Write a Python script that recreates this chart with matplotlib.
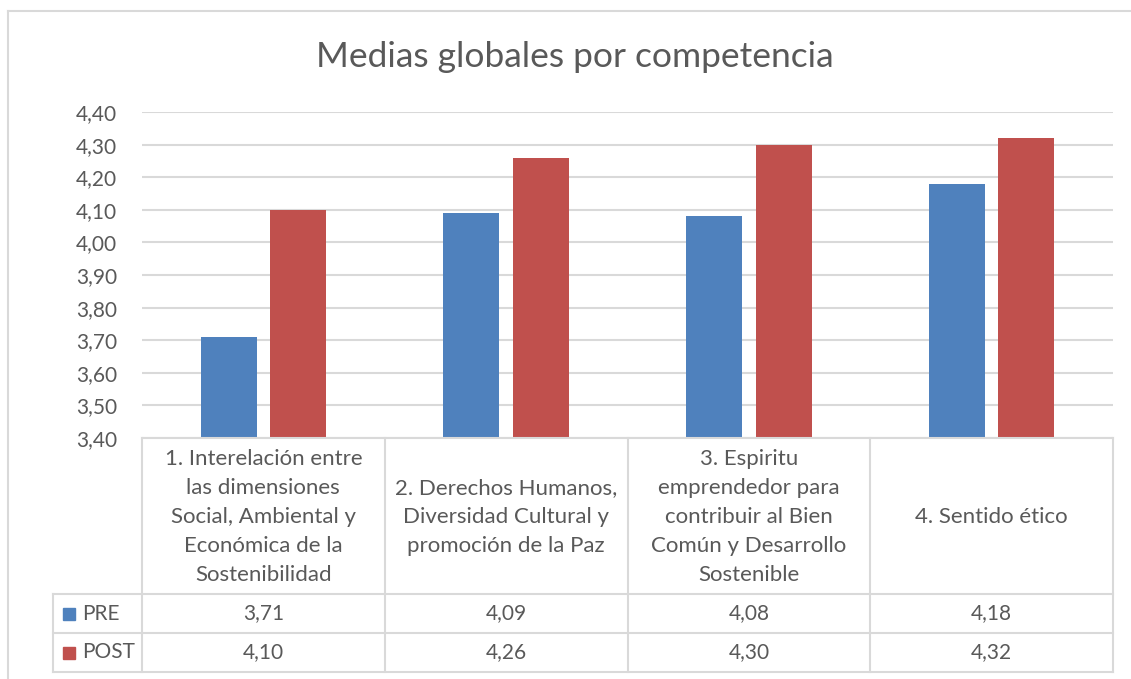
import matplotlib
matplotlib.use('Agg')
import matplotlib.pyplot as plt
from matplotlib.lines import Line2D
from matplotlib.patches import Rectangle
import matplotlib.transforms as mtransforms

# ---- data ----
categories = [
    "1. Interelación entre\nlas dimensiones\nSocial, Ambiental y\nEconómica de la\nSostenibilidad",
    "2. Derechos Humanos,\nDiversidad Cultural y\npromoción de la Paz",
    "3. Espiritu\nemprendedor para\ncontribuir al Bien\nComún y Desarrollo\nSostenible",
    "4. Sentido ético",
]
series_names = ["PRE", "POST"]
pre = [3.71, 4.09, 4.08, 4.18]
post = [4.10, 4.26, 4.30, 4.32]
yticks = [3.40, 3.50, 3.60, 3.70, 3.80, 3.90, 4.00, 4.10, 4.20, 4.30, 4.40]
title = "Medias globales por competencia"

colors = ["#4F81BD", "#C0504D"]
txt = "#595959"
grid = "#D9D9D9"
FONT = ["Lato", "DejaVu Sans"]
plt.rcParams['font.family'] = FONT

W, H = 1131, 679
fig = plt.figure(figsize=(W / 100, H / 100), dpi=100)


def fx(px):
    return px / W


def fy(py):
    return 1 - py / H


# chart border (top and left visible)
fig.add_artist(Line2D([fx(8), 1.0], [fy(11), fy(11)], color=grid, lw=1.5, transform=fig.transFigure))
fig.add_artist(Line2D([fx(8), fx(8)], [fy(11), 0.0], color=grid, lw=1.5, transform=fig.transFigure))

ax = fig.add_axes([fx(142), fy(438), fx(1113) - fx(142), fy(112) - fy(438)])
x = list(range(len(categories)))
bw = 0.23
off = 0.143
ax.bar([i - off for i in x], pre, width=bw, color=colors[0], zorder=3)
ax.bar([i + off for i in x], post, width=bw, color=colors[1], zorder=3)
ax.set_xlim(-0.5, len(categories) - 0.5)
ax.set_ylim(yticks[0], yticks[-1])
ax.set_yticks(yticks)
ax.set_yticklabels([f"{v:.2f}".replace('.', ',') for v in yticks], color=txt, fontsize=15)
ax.tick_params(axis='y', length=0, pad=18)
ax.set_xticks([])
for s in ax.spines.values():
    s.set_visible(False)
ax.yaxis.grid(True, color=grid, lw=1.5, zorder=0)
ax.set_axisbelow(True)

fig.text(fx(575), fy(57), title, ha='center', va='center', fontsize=25.5, color=txt)

# ---- data table ----
trans = mtransforms.blended_transform_factory(ax.transData, fig.transFigure)
y_top, y_h, y_r1, y_r2 = 438, 594, 633, 672
lkw = dict(color=grid, lw=1.5)
# horizontal lines
fig.add_artist(Line2D([-0.5, 3.5], [fy(y_top), fy(y_top)], transform=trans, **lkw))
for yy in (y_h, y_r1, y_r2):
    fig.add_artist(Line2D([fx(53), fx(1113)], [fy(yy), fy(yy)], transform=fig.transFigure, **lkw))
# vertical lines
for b in [c - 0.5 for c in x] + [x[-1] + 0.5]:
    fig.add_artist(Line2D([b, b], [fy(y_top), fy(y_r2)], transform=trans, **lkw))
fig.add_artist(Line2D([fx(53), fx(53)], [fy(y_h), fy(y_r2)], transform=fig.transFigure, **lkw))

# header text
for i, c in enumerate(categories):
    fig.text(i, fy((y_top + y_h) / 2 + 1), c, transform=trans, ha='center', va='center',
             fontsize=16, color=txt, linespacing=1.55)
# values
rows = [pre, post]
row_centers = [(y_h + y_r1) / 2, (y_r1 + y_r2) / 2]
for r, (vals, yc) in enumerate(zip(rows, row_centers)):
    for i, v in enumerate(vals):
        fig.text(i, fy(yc), f"{v:.2f}".replace('.', ','), transform=trans, ha='center', va='center',
                 fontsize=15, color=txt)
    fig.add_artist(Rectangle((fx(63), fy(yc + 6)), fx(12), 12 / H, color=colors[r],
                             transform=fig.transFigure))
    fig.text(fx(82), fy(yc), series_names[r], ha='left', va='center', fontsize=15, color=txt)

fig.savefig("out.png", dpi=100)
